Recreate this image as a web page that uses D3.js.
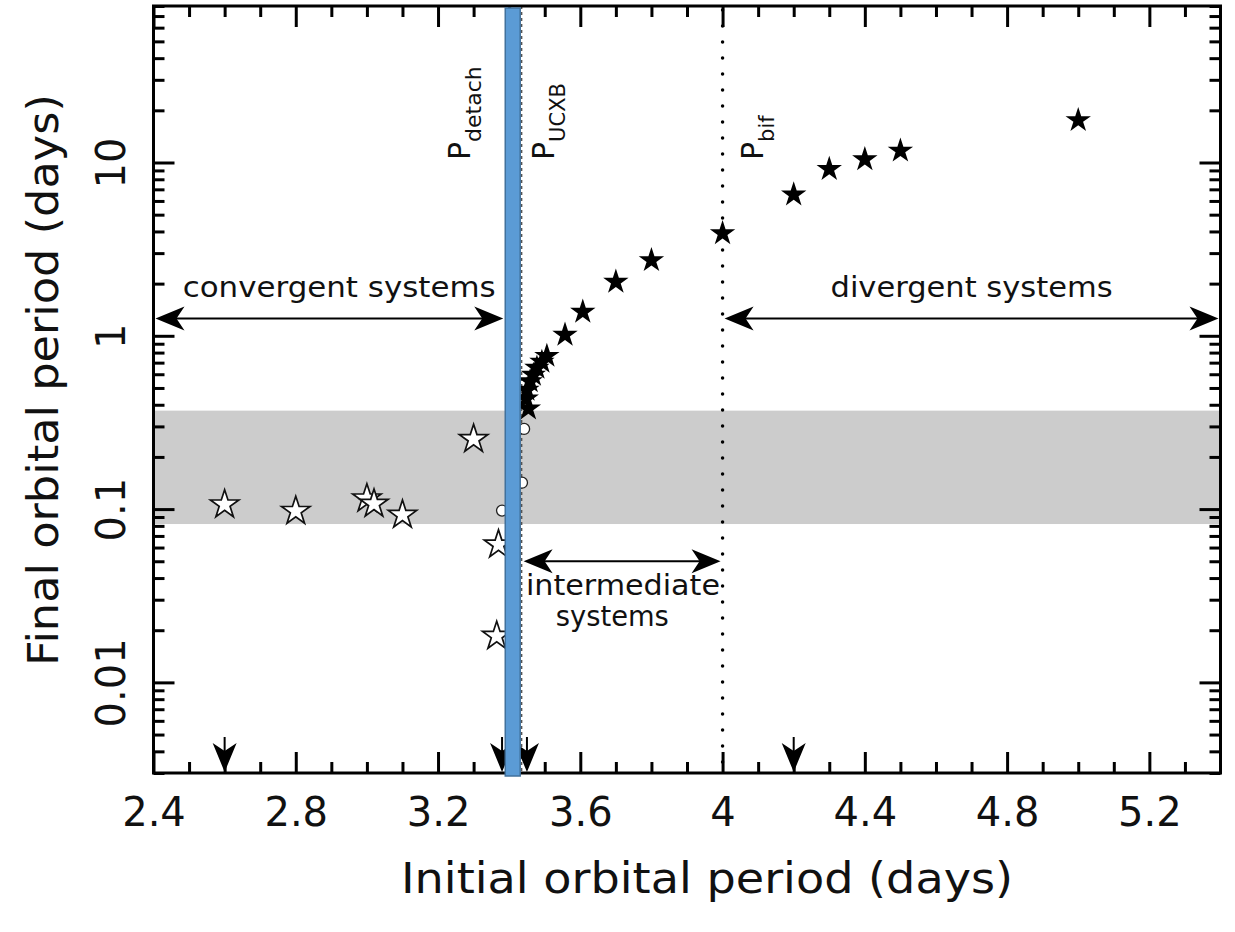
<!DOCTYPE html>
<html>
<head>
<meta charset="UTF-8">
<style>
  body { margin: 0; background: #fff; }
  svg { display: block; background: #fff; }
  text { font-family: "DejaVu Sans", sans-serif; fill: #111; }
</style>
</head>
<body>
<svg></svg>
<script src="https://d3js.org/d3.v7.min.js"></script>
<script>
let width = 1235, height = 932;

// [initial period, final period] in days
let openStars = [[2.6, 0.109], [2.8, 0.100], [3.0, 0.118], [3.02, 0.110], [3.1, 0.095],
                 [3.3, 0.26], [3.37, 0.064], [3.365, 0.019]];
let filledStars = [[3.454, 0.39], [3.448, 0.445], [3.45, 0.50], [3.459, 0.56], [3.468, 0.61],
                   [3.478, 0.67], [3.492, 0.725], [3.506, 0.785], [3.557, 1.04], [3.607, 1.41],
                   [3.7, 2.1], [3.8, 2.8], [4.0, 4.0], [4.2, 6.7], [4.3, 9.4], [4.4, 10.7],
                   [4.5, 12.0], [5.0, 18.0]];
let circles = [[3.38, 0.098], [3.436, 0.142], [3.442, 0.29]];

let xMajor = [2.4, 2.8, 3.2, 3.6, 4.0, 4.4, 4.8, 5.2];
let xLabels = ["2.4", "2.8", "3.2", "3.6", "4", "4.4", "4.8", "5.2"];
let xMinor = [2.5, 2.6, 2.7, 2.9, 3.0, 3.1, 3.3, 3.4, 3.5, 3.7, 3.8, 3.9, 4.1, 4.2, 4.3,
              4.5, 4.6, 4.7, 4.9, 5.0, 5.1, 5.3];
let yMajor = [0.01, 0.1, 1, 10];
let yLabels = ["0.01", "0.1", "1", "10"];
let yMinor = [0.003, 0.004, 0.005, 0.006, 0.007, 0.008, 0.009,
              0.02, 0.03, 0.04, 0.05, 0.06, 0.07, 0.08, 0.09,
              0.2, 0.3, 0.4, 0.5, 0.6, 0.7, 0.8, 0.9,
              2, 3, 4, 5, 6, 7, 8, 9, 20, 30, 40, 50, 60, 70, 80];

let band = [0.082, 0.37];          // grey band in final period
let pDetach = [3.389, 3.431];      // blue bar
let pUCXB = 3.435;
let pBif = 4.0;

let hArrows = [[2.4, 3.389, 1.26], [4.0, 5.4, 1.26], [3.435, 4.0, 0.05]];
let downArrows = [2.6, 3.38, 3.45, 4.2];

let labels = [
    { text: "convergent systems", x: 2.922, y: 1.68, len: 313 },
    { text: "divergent systems", x: 4.70, y: 1.68, len: 282 },
    { text: "intermediate", x: 3.72, y: 0.0318, len: 194 },
    { text: "systems", x: 3.69, y: 0.0212, len: 113 }
];

let svg = d3.select("svg")
    .attr("width", width)
    .attr("height", height);

let x = d3.scaleLinear().domain([2.4, 5.4]).range([153.5, 1220.5]);
let y = d3.scaleLog().domain([0.003, 80]).range([773, 6]);

// grey band
svg.append("rect")
    .attr("x", x(2.4)).attr("width", x(5.4) - x(2.4))
    .attr("y", y(band[1])).attr("height", y(band[0]) - y(band[1]))
    .attr("fill", "#cccccc");

// P_bif dotted, P_UCXB dashed
svg.append("line")
    .attr("x1", x(pBif)).attr("x2", x(pBif))
    .attr("y1", y(80) + 4).attr("y2", y(0.003))
    .attr("stroke", "#000").attr("stroke-width", 3.5)
    .attr("stroke-linecap", "round").attr("stroke-dasharray", "0,16");

svg.append("line")
    .attr("x1", x(pUCXB)).attr("x2", x(pUCXB))
    .attr("y1", y(80)).attr("y2", y(0.003))
    .attr("stroke", "#555").attr("stroke-width", 1.5)
    .attr("stroke-dasharray", "3,3");

// points
let starOpen = d3.symbol().type(d3.symbolStar).size(250);
let starFill = d3.symbol().type(d3.symbolStar).size(200);

svg.append("g").selectAll("circle")
    .data(circles)
    .enter().append("circle")
    .attr("cx", d => x(d[0])).attr("cy", d => y(d[1]))
    .attr("r", 5.5)
    .attr("fill", "#fff").attr("stroke", "#222").attr("stroke-width", 1.3);

svg.append("g").selectAll("path")
    .data(openStars)
    .enter().append("path")
    .attr("d", starOpen)
    .attr("transform", d => "translate(" + x(d[0]) + "," + (y(d[1]) + 2) + ")")
    .attr("fill", "#fff").attr("stroke", "#111").attr("stroke-width", 1.7);

svg.append("g").selectAll("path")
    .data(filledStars)
    .enter().append("path")
    .attr("d", starFill)
    .attr("transform", d => "translate(" + x(d[0]) + "," + (y(d[1]) + 2) + ")")
    .attr("fill", "#000");

// arrows
function head(g, px, py, angle) {
    g.append("path")
        .attr("d", "M0,0 L-29,-12 L-21,0 L-29,12 Z")
        .attr("transform", "translate(" + px + "," + py + ") rotate(" + angle + ")")
        .attr("fill", "#000");
}

let arrows = svg.append("g");
hArrows.forEach(a => {
    let x0 = x(a[0]) + 2, x1 = x(a[1]) - 2, yy = y(a[2]);
    arrows.append("line")
        .attr("x1", x0 + 10).attr("x2", x1 - 10).attr("y1", yy).attr("y2", yy)
        .attr("stroke", "#000").attr("stroke-width", 2);
    head(arrows, x1, yy, 0);
    head(arrows, x0, yy, 180);
});
downArrows.forEach(a => {
    let yb = y(0.003) - 1;
    arrows.append("line")
        .attr("x1", x(a)).attr("x2", x(a)).attr("y1", yb - 35).attr("y2", yb - 10)
        .attr("stroke", "#000").attr("stroke-width", 2);
    head(arrows, x(a), yb, 90);
});

// text labels
svg.append("g").selectAll("text")
    .data(labels)
    .enter().append("text")
    .attr("x", d => x(d.x)).attr("y", d => y(d.y))
    .attr("text-anchor", "middle")
    .attr("font-size", 28)
    .attr("textLength", d => d.len)
    .attr("lengthAdjust", "spacingAndGlyphs")
    .text(d => d.text);

function pLabel(px, sub, size) {
    let t = svg.append("text")
        .attr("transform", "translate(" + px + ",160) rotate(-90)")
        .attr("font-size", 30);
    t.append("tspan").text("P");
    t.append("tspan").attr("dy", 11).attr("font-size", size).text(sub);
}
pLabel(x(pDetach[0]) - 35, "detach", 22);
pLabel(x(pUCXB) + 32, "UCXB", 21);
pLabel(x(pBif) + 40, "bif", 21);

// axes
function styleAxis(g) {
    g.select(".domain").remove();
    g.selectAll("line").attr("stroke", "#000").attr("stroke-width", 3);
    g.attr("font-family", null).attr("font-size", null);
    g.selectAll("text").attr("font-size", 40).attr("fill", "#111");
}

let yb = y(0.003), yt = y(80), xl = x(2.4), xr = x(5.4);

svg.append("g").attr("transform", "translate(0," + yb + ")")
    .call(d3.axisBottom(x).tickValues(xMajor).tickSize(-21).tickSizeOuter(0)
        .tickPadding(25).tickFormat((d, i) => xLabels[i]))
    .call(styleAxis);
svg.append("g").attr("transform", "translate(0," + yb + ")")
    .call(d3.axisBottom(x).tickValues(xMinor).tickSize(-11).tickFormat(""))
    .call(styleAxis);
svg.append("g").attr("transform", "translate(0," + yt + ")")
    .call(d3.axisTop(x).tickValues(xMajor).tickSize(-21).tickFormat(""))
    .call(styleAxis);
svg.append("g").attr("transform", "translate(0," + yt + ")")
    .call(d3.axisTop(x).tickValues(xMinor).tickSize(-11).tickFormat(""))
    .call(styleAxis);

svg.append("g").attr("transform", "translate(" + xl + ",0)")
    .call(d3.axisLeft(y).tickValues(yMajor).tickSize(-21).tickFormat((d, i) => yLabels[i]))
    .call(styleAxis)
    .selectAll("text")
    .attr("x", 0).attr("dy", null)
    .attr("text-anchor", "middle")
    .attr("transform", "translate(-29,0) rotate(-90)");
svg.append("g").attr("transform", "translate(" + xl + ",0)")
    .call(d3.axisLeft(y).tickValues(yMinor).tickSize(-11).tickFormat(""))
    .call(styleAxis);
svg.append("g").attr("transform", "translate(" + xr + ",0)")
    .call(d3.axisRight(y).tickValues(yMajor).tickSize(-21).tickFormat(""))
    .call(styleAxis);
svg.append("g").attr("transform", "translate(" + xr + ",0)")
    .call(d3.axisRight(y).tickValues(yMinor).tickSize(-11).tickFormat(""))
    .call(styleAxis);

// frame
svg.append("rect")
    .attr("x", xl).attr("y", yt)
    .attr("width", xr - xl).attr("height", yb - yt)
    .attr("fill", "none").attr("stroke", "#000").attr("stroke-width", 3);

// P_detach bar, drawn over the bottom frame
svg.append("rect")
    .attr("x", x(pDetach[0])).attr("width", x(pDetach[1]) - x(pDetach[0]))
    .attr("y", yt + 2).attr("height", yb - yt + 1)
    .attr("fill", "#5b9bd5").attr("stroke", "#41719c").attr("stroke-width", 1.5);

// axis titles
svg.append("text")
    .attr("x", (xl + xr) / 2 + 20).attr("y", 893)
    .attr("text-anchor", "middle").attr("font-size", 42)
    .attr("textLength", 612).attr("lengthAdjust", "spacingAndGlyphs")
    .text("Initial orbital period (days)");

svg.append("text")
    .attr("transform", "translate(58,380) rotate(-90)")
    .attr("text-anchor", "middle").attr("font-size", 42)
    .attr("textLength", 572).attr("lengthAdjust", "spacingAndGlyphs")
    .text("Final orbital period (days)");
</script>
</body>
</html>
